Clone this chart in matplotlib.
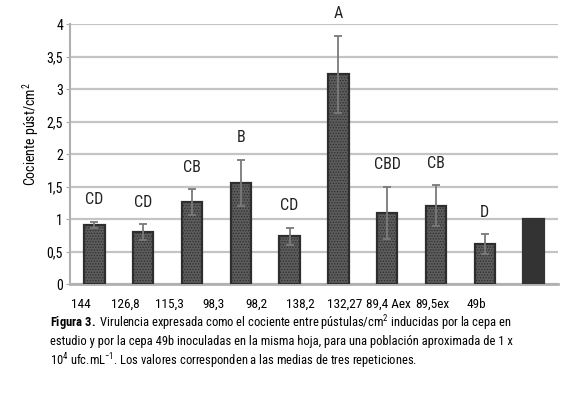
import matplotlib
matplotlib.use("Agg")
import matplotlib.pyplot as plt
import numpy as np
from matplotlib import font_manager

# fuente estrecha, la primera que haya
nombres = {f.name for f in font_manager.fontManager.ttflist}
candidatas = ["Roboto Condensed", "Archivo Narrow", "PT Sans Narrow", "Liberation Sans Narrow",
              "IBM Plex Sans Condensed", "Fira Sans Condensed", "Encode Sans Condensed",
              "Asap Condensed", "Barlow Condensed", "DejaVu Sans"]
fuente = next(c for c in candidatas if c in nombres)
plt.rcParams["font.family"] = [fuente, "DejaVu Sans"]
plt.rcParams["mathtext.fontset"] = "custom"
plt.rcParams["mathtext.rm"] = fuente
plt.rcParams["mathtext.it"] = fuente
plt.rcParams["mathtext.bf"] = fuente + ":bold"
plt.rcParams["hatch.color"] = "#8a8a8a"
plt.rcParams["hatch.linewidth"] = 0.6

# datos
cepas = ["144", "126,8", "115,3", "98,3", "98,2", "138,2", "132,27", "89,4 Aex", "89,5ex", "49b"]
medias = [0.91, 0.80, 1.26, 1.56, 0.74, 3.23, 1.10, 1.21, 0.62, 1.00]
errores = [0.05, 0.12, 0.20, 0.35, 0.13, 0.59, 0.40, 0.31, 0.15, 0.0]
letras = ["CD", "CD", "CB", "B", "CD", "A", "CBD", "CB", "D", ""]

x = np.arange(len(cepas))

fig = plt.figure(figsize=(5.87, 3.93), dpi=100)
ax = fig.add_axes([0.1193, 0.2766, 0.8313, 0.6616])

colores = ["#5c5c5c"] * 9 + ["#333333"]
bordes = ["#2e2e2e"] * 9 + ["#333333"]
rayas = ["......"] * 9 + [None]
barras = ax.bar(x, medias, width=0.42, color=colores, edgecolor=bordes, linewidth=1.6, zorder=3)
for b, h in zip(barras, rayas):
    if h:
        b.set_hatch(h)

ax.errorbar(x[:9], medias[:9], yerr=errores[:9], fmt="none", ecolor="#7a7a7a",
            elinewidth=1.3, capsize=3, capthick=1.3, zorder=4)

for xi, m, e, l in zip(x, medias, errores, letras):
    if l:
        ax.annotate(l, (xi, m + e), xytext=(0, 16), textcoords="offset points",
                    ha="center", va="center", fontsize=11.5, color="#222222")

ax.set_xlim(-0.5, len(cepas) - 0.5)
ax.set_ylim(0, 4)
ax.set_yticks(np.arange(0, 4.01, 0.5))
ax.set_yticklabels(["0", "0,5", "1", "1,5", "2", "2,5", "3", "3,5", "4"], fontsize=10)
ax.yaxis.grid(True, color="#c4c4c4", linewidth=1.6, zorder=0)
ax.set_axisbelow(True)

# etiquetas del eje x algo desplazadas como en la figura original
ax.set_xticks(x * 0.9 - 0.27)
ax.set_xticklabels(cepas, fontsize=9.5)
ax.tick_params(axis="x", length=0, pad=10)
ax.tick_params(axis="y", length=3, color="#aaaaaa", pad=2)

for s in ["top", "right"]:
    ax.spines[s].set_visible(False)
ax.spines["left"].set_color("#b0b0b0")
ax.spines["left"].set_linewidth(1.5)
ax.spines["bottom"].set_color("#b0b0b0")
ax.spines["bottom"].set_linewidth(2)

ax.set_ylabel("Cociente púst/cm$^2$", fontsize=10)
ax.yaxis.set_label_coords(-0.059, 0.577)

lineas = ["$\\mathbf{Figura\\ 3.}$ Virulencia expresada como el cociente entre pústulas/cm$^2$ inducidas por la cepa en",
          "estudio y por la cepa 49b inoculadas en la misma hoja, para una población aproximada de 1 x",
          "10$^4$ ufc.mL$^{-1}$. Los valores corresponden a las medias de tres repeticiones."]
t = fig.text(50 / 587, 1 - 313 / 393, "\n".join(lineas), fontsize=11, va="top", ha="left", linespacing=1.25)

# ajustar el tamaño para que la primera línea ocupe ~460 px
r = fig.canvas.get_renderer()
prueba = fig.text(0, 0, lineas[0], fontsize=11)
ancho = prueba.get_window_extent(r).width
prueba.remove()
t.set_fontsize(11 * 460 / ancho)

fig.savefig("out.png", dpi=100)
